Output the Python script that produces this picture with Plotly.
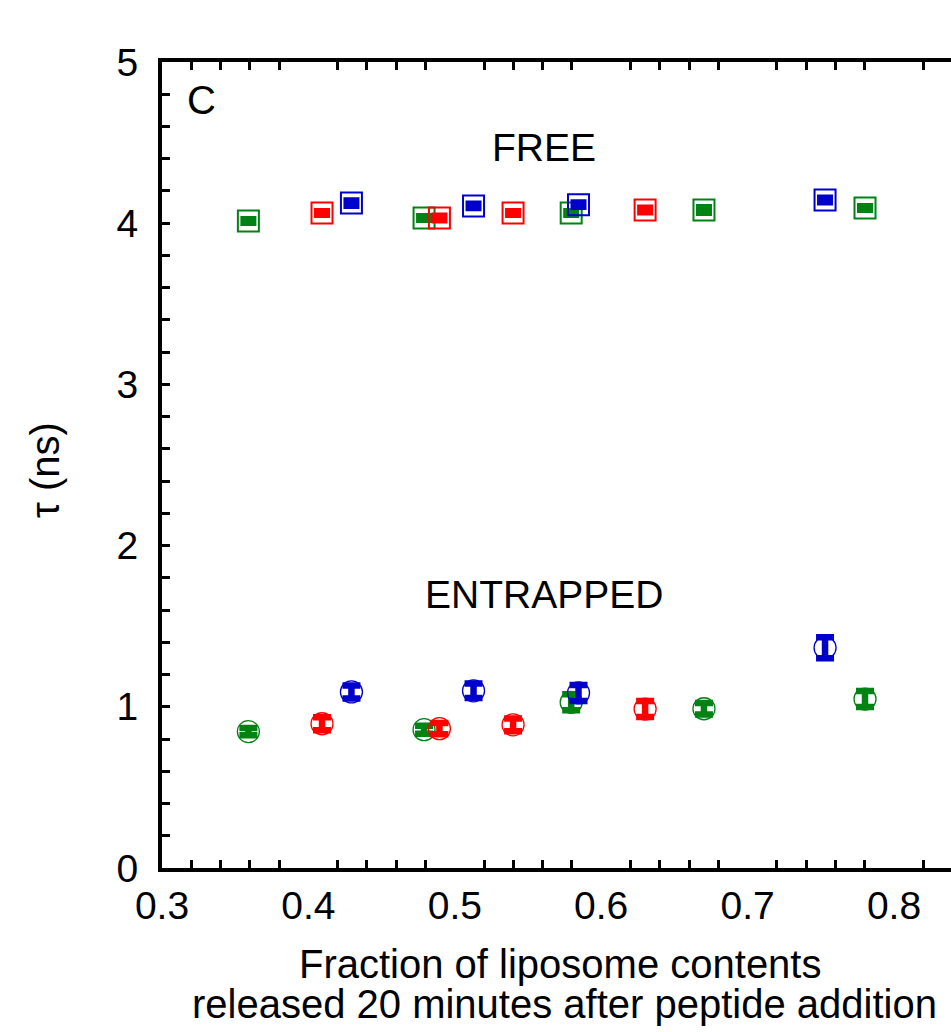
import plotly.graph_objects as go

# Fraction of liposome contents released 20 min after peptide addition
green_x = [0.359, 0.479, 0.5795, 0.6702, 0.7802]
red_x = [0.4093, 0.4895, 0.5398, 0.630]
blue_x = [0.4294, 0.5128, 0.5845, 0.7529]

# Lifetime of the free probe (ns) and its uncertainty
green_free = [4.014, 4.032, 4.063, 4.082, 4.094]
red_free = [4.063, 4.032, 4.063, 4.082]
blue_free = [4.125, 4.107, 4.115, 4.144]
green_free_err = [0.012, 0.012, 0.012, 0.018, 0.012]
red_free_err = [0.012, 0.015, 0.012, 0.015]
blue_free_err = [0.018, 0.015, 0.015, 0.015]

# Lifetime of the entrapped probe (ns) and its uncertainty
green_ent = [0.846, 0.858, 1.028, 0.988, 1.048]
red_ent = [0.895, 0.864, 0.888, 0.986]
blue_ent = [1.092, 1.099, 1.086, 1.366]
green_ent_err = [0.022, 0.025, 0.05, 0.035, 0.05]
red_ent_err = [0.04, 0.035, 0.04, 0.05]
blue_ent_err = [0.04, 0.045, 0.05, 0.065]

x_ticks = [0.3, 0.4, 0.5, 0.6, 0.7, 0.8]
y_ticks = [0, 1, 2, 3, 4, 5]

GREEN = "#008214"
RED = "#ff0000"
BLUE = "#0000cc"
FONT = "Liberation Sans, Arial, sans-serif"

series = [
    (green_x, green_free, green_free_err, green_ent, green_ent_err, GREEN),
    (red_x, red_free, red_free_err, red_ent, red_ent_err, RED),
    (blue_x, blue_free, blue_free_err, blue_ent, blue_ent_err, BLUE),
]

fig = go.Figure()
for xs, yf, ef, ye, ee, col in series:
    fig.add_trace(go.Scatter(
        x=xs, y=yf, mode="markers",
        marker=dict(symbol="square-open", size=21, color=col, line=dict(width=2, color=col)),
        error_y=dict(type="data", array=ef, visible=True, color=col, thickness=6, width=8),
        showlegend=False, cliponaxis=False,
    ))
    fig.add_trace(go.Scatter(
        x=xs, y=ye, mode="markers",
        marker=dict(symbol="circle-open", size=22, color=col, line=dict(width=1.3, color=col)),
        error_y=dict(type="data", array=ee, visible=True, color=col, thickness=6.5, width=9),
        showlegend=False, cliponaxis=False,
    ))

minor_x = [round(0.3 + 0.02 * i, 2) for i in range(1, 28) if i % 5 != 0]

fig.update_xaxes(
    range=[0.3, 0.3 + 789 / 1464], tickvals=x_ticks, ticktext=[f"{v:.1f}" for v in x_ticks],
    ticks="", showline=True, linewidth=4, linecolor="black", mirror="ticks",
    showgrid=False, zeroline=False,
    tickfont=dict(family=FONT, size=39, color="black"),
    minor=dict(tickmode="array", tickvals=minor_x, ticks="inside", ticklen=8,
               tickwidth=3, tickcolor="black", showgrid=False),
)
fig.update_yaxes(
    range=[0, 5], tickvals=y_ticks, ticks="inside", ticklen=8, tickwidth=3, tickcolor="black",
    showline=True, linewidth=4, linecolor="black", mirror=False,
    showgrid=False, zeroline=False, ticklabelstandoff=12,
    tickfont=dict(family=FONT, size=39, color="black"),
    minor=dict(dtick=0.2, ticks="inside", ticklen=8, tickwidth=3, tickcolor="black", showgrid=False),
)

ann_font = dict(family=FONT, size=40, color="black")
fig.add_annotation(x=0.327, y=4.764, text="C", showarrow=False, font=ann_font)
fig.add_annotation(x=0.561, y=4.467, text="FREE", showarrow=False, font=dict(family=FONT, size=39, color="black"))
fig.add_annotation(x=0.561, y=1.694, text="ENTRAPPED", showarrow=False, font=dict(family=FONT, size=39, color="black"))

# Axis titles placed in paper coordinates
fig.add_annotation(xref="paper", yref="paper", x=(560 - 162) / 789, y=-(964 - 868) / 806,
                   text="Fraction of liposome contents", showarrow=False, font=ann_font,
                   xanchor="center", yanchor="middle")
fig.add_annotation(xref="paper", yref="paper", x=(564 - 162) / 789, y=-(1004 - 868) / 806,
                   text="released 20 minutes after peptide addition", showarrow=False, font=ann_font,
                   xanchor="center", yanchor="middle")
fig.add_annotation(xref="paper", yref="paper", x=-(162 - 45) / 789, y=(868 - 470) / 806,
                   text="τ (ns)", textangle=-90, showarrow=False, font=ann_font,
                   xanchor="center", yanchor="middle")

fig.update_layout(
    width=951, height=1032,
    margin=dict(l=162, r=0, t=62, b=164),
    plot_bgcolor="white", paper_bgcolor="white",
)

fig.write_html("out.html")
